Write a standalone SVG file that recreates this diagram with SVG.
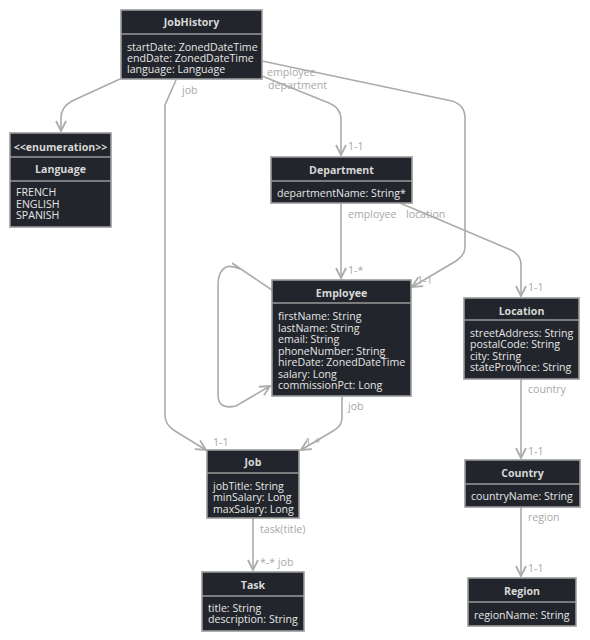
<svg xmlns="http://www.w3.org/2000/svg" width="590" height="640" viewBox="0 0 590 640">
<style>
.box{fill:#22252b;stroke:#9a9a9a;stroke-width:1.6}
.div{stroke:#9a9a9a;stroke-width:1.6}
.t{font-family:"Open Sans","DejaVu Sans",sans-serif;font-size:10.6px;font-weight:bold;fill:#d8d8d8;text-anchor:middle}
.a{font-family:"Open Sans","DejaVu Sans",sans-serif;font-size:10.6px;fill:#e6e6e6}
.l{font-family:"Open Sans","DejaVu Sans",sans-serif;font-size:10.6px;fill:#a8a8a8}
.e{fill:none;stroke:#ababab;stroke-width:1.6}
</style>
<defs>
<marker id="arr" viewBox="0 0 12 12" refX="11" refY="6" markerWidth="12" markerHeight="12" markerUnits="userSpaceOnUse" orient="auto">
<path d="M1,1 L11,6 L1,11" fill="none" stroke="#ababab" stroke-width="1.8"/>
</marker>
</defs>
<rect width="590" height="640" fill="#ffffff"/>
<g id="connectors">
<path class="e" d="M120,79 L72,101 Q61,107 61,118 L61,131" marker-end="url(#arr)"/>
<path class="e" d="M176,80 L165,105 L165,415 Q165,425 175,431 L206,450" marker-end="url(#arr)"/>
<path class="e" d="M262,76 L329,103 Q341,108 341,120 L341,155" marker-end="url(#arr)"/>
<path class="e" d="M262,61 L452,101 Q465,105 465,118 L465,247 Q465,255 456,261 L412,287" marker-end="url(#arr)"/>
<path class="e" d="M341,203 L341,278" marker-end="url(#arr)"/>
<path class="e" d="M400,203 L511,250 Q521,255 521,265 L521,296" marker-end="url(#arr)"/>
<path class="e" d="M272,290 L232,263"/>
<path class="e" d="M240,269 Q232,265 226,267 Q218,271 218,285 L218,395 Q218,410 236,406 L270,386" marker-end="url(#arr)"/>
<path class="e" d="M342,396 L342,418 Q342,426 333,431 L301,450" marker-end="url(#arr)"/>
<path class="e" d="M253,518 L253,570" marker-end="url(#arr)"/>
<path class="e" d="M521,379 L521,458" marker-end="url(#arr)"/>
<path class="e" d="M521,507 L521,576" marker-end="url(#arr)"/>
<text class="l" x="182" y="94">job</text>
<text class="l" x="267" y="76">employee</text>
<text class="l" x="268" y="89">department</text>
<text class="l" x="348" y="150">1-1</text>
<text class="l" x="348" y="218">employee</text>
<text class="l" x="406" y="218">location</text>
<text class="l" x="348" y="274">1-*</text>
<text class="l" x="417" y="284">1-1</text>
<text class="l" x="528" y="291">1-1</text>
<text class="l" x="348" y="410">job</text>
<text class="l" x="213" y="446">1-1</text>
<text class="l" x="305" y="446">1-*</text>
<text class="l" x="260" y="533">task(title)</text>
<text class="l" x="260" y="566">*-* job</text>
<text class="l" x="528" y="393">country</text>
<text class="l" x="528" y="455">1-1</text>
<text class="l" x="528" y="521">region</text>
<text class="l" x="528" y="572">1-1</text>
</g>
<g id="JobHistory">
<rect class="box" x="121" y="10" width="141" height="69"/>
<line class="div" x1="121" y1="34" x2="262" y2="34"/>
<text class="t" x="191.5" y="26">JobHistory</text>
<text class="a" x="127" y="51">startDate: ZonedDateTime</text>
<text class="a" x="127" y="62">endDate: ZonedDateTime</text>
<text class="a" x="127" y="73">language: Language</text>
</g>
<g id="Language">
<rect class="box" x="10" y="133" width="101" height="94"/>
<line class="div" x1="10" y1="157" x2="111" y2="157"/>
<line class="div" x1="10" y1="181" x2="111" y2="181"/>
<text class="t" x="60.5" y="151">&lt;&lt;enumeration&gt;&gt;</text>
<text class="t" x="60.5" y="173">Language</text>
<text class="a" x="16" y="196">FRENCH</text>
<text class="a" x="16" y="207.5">ENGLISH</text>
<text class="a" x="16" y="219">SPANISH</text>
</g>
<g id="Department">
<rect class="box" x="271" y="157" width="141" height="46"/>
<line class="div" x1="271" y1="181" x2="412" y2="181"/>
<text class="t" x="341.5" y="173.5">Department</text>
<text class="a" x="277" y="196.5">departmentName: String*</text>
</g>
<g id="Employee">
<rect class="box" x="272" y="280" width="139" height="116"/>
<line class="div" x1="272" y1="303" x2="411" y2="303"/>
<text class="t" x="341.5" y="296.5">Employee</text>
<text class="a" x="278" y="320">firstName: String</text>
<text class="a" x="278" y="331.5">lastName: String</text>
<text class="a" x="278" y="343">email: String</text>
<text class="a" x="278" y="354.5">phoneNumber: String</text>
<text class="a" x="278" y="366">hireDate: ZonedDateTime</text>
<text class="a" x="278" y="377.5">salary: Long</text>
<text class="a" x="278" y="389">commissionPct: Long</text>
</g>
<g id="Location">
<rect class="box" x="464" y="298" width="115" height="81"/>
<line class="div" x1="464" y1="320" x2="579" y2="320"/>
<text class="t" x="521.5" y="314.5">Location</text>
<text class="a" x="470" y="336.5">streetAddress: String</text>
<text class="a" x="470" y="348">postalCode: String</text>
<text class="a" x="470" y="359.5">city: String</text>
<text class="a" x="470" y="371">stateProvince: String</text>
</g>
<g id="Country">
<rect class="box" x="465" y="460" width="115" height="47"/>
<line class="div" x1="465" y1="484" x2="580" y2="484"/>
<text class="t" x="522.5" y="476.5">Country</text>
<text class="a" x="471" y="500">countryName: String</text>
</g>
<g id="Region">
<rect class="box" x="468" y="578" width="108" height="48"/>
<line class="div" x1="468" y1="602" x2="576" y2="602"/>
<text class="t" x="522" y="594.5">Region</text>
<text class="a" x="474" y="618.5">regionName: String</text>
</g>
<g id="Job">
<rect class="box" x="207" y="450" width="92" height="68"/>
<line class="div" x1="207" y1="473" x2="299" y2="473"/>
<text class="t" x="253" y="465.5">Job</text>
<text class="a" x="213" y="489.5">jobTitle: String</text>
<text class="a" x="213" y="501">minSalary: Long</text>
<text class="a" x="213" y="512.5">maxSalary: Long</text>
</g>
<g id="Task">
<rect class="box" x="202" y="572" width="102" height="59"/>
<line class="div" x1="202" y1="596" x2="304" y2="596"/>
<text class="t" x="253" y="588.5">Task</text>
<text class="a" x="208" y="611.5">title: String</text>
<text class="a" x="208" y="623">description: String</text>
</g>
</svg>
